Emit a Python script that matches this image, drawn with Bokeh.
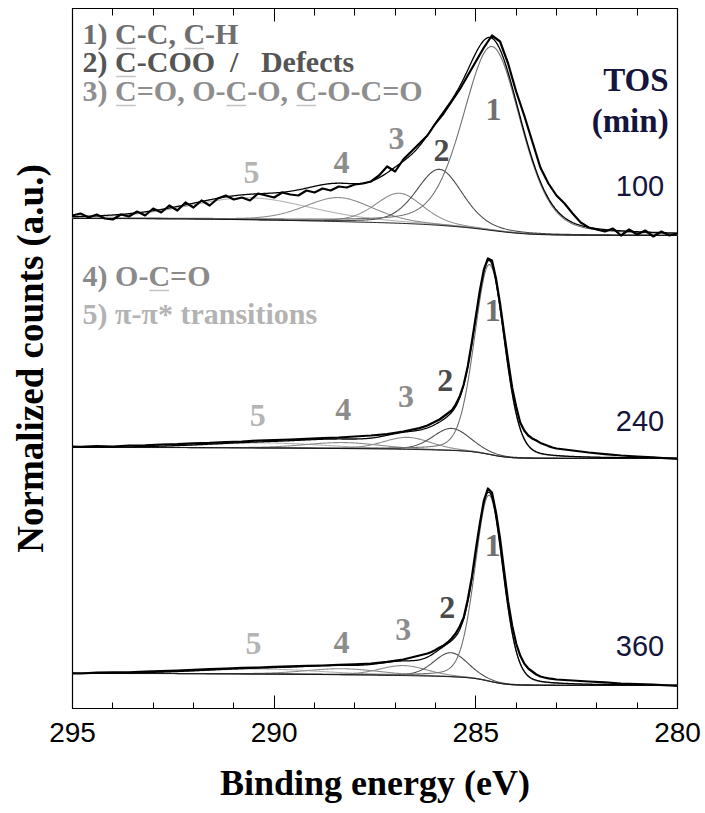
import numpy as np
from bokeh.plotting import figure
from bokeh.models import Range1d, LinearAxis, SingleIntervalTicker, FixedTicker, ColumnDataSource
from bokeh.core.properties import value
from bokeh.embed import file_html
from bokeh.resources import INLINE

# ---------------- data ----------------
TOS = ["100", "240", "360"]
OFFSETS = [2.365, 1.25, 0.115]          # vertical stacking of the spectra (a.u.)
BG_STEP = [0.085, 0.055, 0.060]         # Shirley background: high-BE level minus low-BE level
LORENTZ = [0.30, 0.20, 0.20]            # Lorentzian fraction of the fitted line shapes

PEAK_NAMES = ["1", "2", "3", "4", "5"]
# fitted components per spectrum: centre (eV), height (a.u.), FWHM (eV)
CENTER_100 = [284.60, 285.90, 286.90, 288.40, 290.60]
HEIGHT_100 = [0.92, 0.28, 0.15, 0.12, 0.11]
FWHM_100 = [1.70, 1.35, 1.40, 2.00, 3.60]

CENTER_240 = [284.66, 285.60, 286.70, 288.30, 290.20]
HEIGHT_240 = [0.95, 0.11, 0.06, 0.03, 0.025]
FWHM_240 = [0.88, 1.10, 1.40, 2.20, 3.50]

CENTER_360 = [284.67, 285.62, 286.80, 288.30, 290.30]
HEIGHT_360 = [0.93, 0.12, 0.05, 0.03, 0.025]
FWHM_360 = [0.82, 1.00, 1.40, 2.20, 3.50]

# measured spectra (normalized counts above the low-BE background level)
BE_100 = np.linspace(295.2, 279.8, 78)
EXP_100 = [
    0.115, 0.10, 0.11, 0.09, 0.105, 0.085, 0.08, 0.105, 0.095, 0.12,
    0.10, 0.135, 0.115, 0.15, 0.125, 0.165, 0.14, 0.175, 0.15, 0.185,
    0.20, 0.18, 0.19, 0.175, 0.21, 0.20, 0.19, 0.215, 0.205, 0.20,
    0.225, 0.215, 0.235, 0.225, 0.245, 0.24, 0.255, 0.26, 0.27, 0.30,
    0.345, 0.32, 0.38, 0.42, 0.46, 0.50, 0.56, 0.61, 0.67, 0.73,
    0.80, 0.87, 0.94, 1.00, 0.97, 0.86, 0.72, 0.60, 0.47, 0.34,
    0.26, 0.20, 0.16, 0.11, 0.065, 0.04, 0.03, 0.02, 0.035, 0.0,
    0.03, 0.005, 0.025, -0.005, 0.02, 0.0, 0.01, -0.015,
]

BE_240_360 = np.concatenate([
    np.linspace(295.2, 286.4, 23),
    np.linspace(286.3, 283.0, 34),
    np.linspace(282.6, 279.8, 8),
])
EXP_240 = [
    0.060, 0.058, 0.062, 0.060, 0.065, 0.066, 0.070, 0.072, 0.076, 0.078,
    0.082, 0.085, 0.090, 0.092, 0.095, 0.098, 0.102, 0.105, 0.110, 0.115,
    0.122, 0.135, 0.152,
    0.158, 0.165, 0.175, 0.185, 0.195, 0.21, 0.225, 0.24, 0.27, 0.31,
    0.37, 0.46, 0.58, 0.71, 0.84, 0.945, 1.00, 0.99, 0.90, 0.775,
    0.63, 0.49, 0.355, 0.26, 0.18, 0.14, 0.115, 0.10, 0.09, 0.078,
    0.07, 0.062, 0.055, 0.05,
    0.04, 0.03, 0.022, 0.015, 0.01, 0.006, 0.0, -0.003,
]
EXP_360 = [
    0.062, 0.060, 0.064, 0.066, 0.066, 0.070, 0.072, 0.075, 0.078, 0.082,
    0.085, 0.088, 0.090, 0.093, 0.096, 0.098, 0.100, 0.103, 0.106, 0.110,
    0.118, 0.130, 0.150,
    0.155, 0.16, 0.168, 0.178, 0.19, 0.20, 0.215, 0.235, 0.26, 0.295,
    0.34, 0.43, 0.54, 0.68, 0.81, 0.925, 0.985, 0.965, 0.865, 0.735,
    0.575, 0.42, 0.30, 0.21, 0.15, 0.11, 0.085, 0.07, 0.055, 0.045,
    0.04, 0.036, 0.033, 0.03,
    0.025, 0.02, 0.016, 0.01, 0.007, 0.004, 0.0, -0.003,
]

LEGEND_TEXT = ["1) C-C, C-H", "2) C-COO\u00a0 /\u00a0\u00a0 Defects", "3) C=O, O-C-O, C-O-C=O",
               "4) O-C=O", "5) \u03c0-\u03c0* transitions"]
UNDERLINED = [[3, 8], [3], [3, 10, 15], [5], []]   # index of the underlined carbon in each line

# ---------------- styles / layout ----------------
COMP_COLORS = ["#707070", "#4a4a4a", "#8c8c8c", "#8c8c8c", "#b4b4b4"]
LEGEND_COLORS = ["#6e6e6e", "#555555", "#8e8e8e", "#8a8a8a", "#b3b3b3"]
UNDERLINE_COLOR = "#c4c4c4"
NAVY = "#14143c"
SERIF = "Liberation Serif"
SANS = "Liberation Sans"
LEGEND_SIZE = 30

LEGEND_X = 294.75
LEGEND_Y = [3.375, 3.235, 3.09, 2.165, 1.975]
PEAK_LABEL_X = [[284.56, 285.85, 286.97, 288.33, 290.56],
                [284.58, 285.76, 286.73, 288.29, 290.41],
                [284.58, 285.71, 286.80, 288.33, 290.51]]
PEAK_LABEL_Y = [[2.995, 2.79, 2.85, 2.73, 2.68],
                [1.99, 1.64, 1.56, 1.495, 1.465],
                [0.815, 0.505, 0.395, 0.33, 0.325]]
TOS_LABEL_X = 280.33
TOS_LABEL_Y = [2.615, 1.44, 0.315]

# advance widths (em) of the bold serif face, for placing the underlines
EM = {'1': .5, '2': .5, '3': .5, '4': .5, '5': .5, ')': .333, ' ': .25, '\u00a0': .25,
      'C': .722, '-': .333, ',': .25, 'H': .778, 'O': .778, '=': .570, '/': .278}

FRAME_L, FRAME_R, X_HI, X_LO = 72, 677, 295.0, 280.0
PX_PER_EV = (FRAME_R - FRAME_L) / (X_HI - X_LO)
PX_PER_UNIT = 200.0


def pseudo_voigt(x, c, h, w, m):
    r2 = 4.0 * ((x - c) / w) ** 2
    return h * ((1 - m) * np.exp(-np.log(2) * r2) + m / (1 + r2))


p = figure(width=705, height=813, x_range=Range1d(X_HI, X_LO), y_range=Range1d(0, 3.5),
           output_backend="svg", toolbar_location=None,
           min_border_left=72, min_border_right=28, min_border_top=8, min_border_bottom=105)
p.grid.visible = False
p.outline_line_color = "black"
p.outline_line_width = 1.2
p.background_fill_color = "white"
p.border_fill_color = "white"

xa = p.xaxis[0]
xa.ticker = SingleIntervalTicker(interval=5, num_minor_ticks=5)
xa.major_tick_in = 13
xa.major_tick_out = 0
xa.minor_tick_in = 6
xa.minor_tick_out = 0
xa.axis_line_color = "black"
xa.major_label_text_font = SANS
xa.major_label_text_font_size = "28px"
xa.major_label_text_color = "black"
xa.major_label_standoff = 14
xa.axis_label = "Binding energy (eV)"
xa.axis_label_text_font = SERIF
xa.axis_label_text_font_style = "bold"
xa.axis_label_text_font_size = "36px"
xa.axis_label_text_color = "black"
xa.axis_label_standoff = 18

# top frame ticks (no labels)
top = LinearAxis(ticker=SingleIntervalTicker(interval=5, num_minor_ticks=5),
                 major_tick_in=13, major_tick_out=0, minor_tick_in=7, minor_tick_out=0,
                 major_label_text_font_size="0px", major_label_text_color=None,
                 major_label_standoff=0, axis_line_color="black")
p.add_layout(top, "above")

ya = p.yaxis[0]
ya.ticker = FixedTicker(ticks=[])
ya.major_tick_in = 0
ya.major_tick_out = 0
ya.minor_tick_in = 0
ya.minor_tick_out = 0
ya.major_label_text_font_size = "0px"
ya.major_label_text_color = None
ya.major_label_standoff = 0
ya.axis_line_color = None
ya.axis_label = "Normalized counts (a.u.)"
ya.axis_label_text_font = SERIF
ya.axis_label_text_font_style = "bold"
ya.axis_label_text_font_size = "37px"
ya.axis_label_text_color = "black"
ya.axis_label_standoff = 22


def add_text(xs, ys, texts, colors, font, size, align, bold=True):
    src = ColumnDataSource(dict(x=list(xs), y=list(ys), t=list(texts), c=list(colors)))
    p.text(x="x", y="y", text="t", text_color="c", source=src,
           text_font=value(font), text_font_size=value(size),
           text_font_style="bold" if bold else "normal",
           text_align=align, text_baseline="middle")


xf = np.linspace(295.2, 279.8, 771)
panels = [
    (CENTER_100, HEIGHT_100, FWHM_100, BE_100, EXP_100),
    (CENTER_240, HEIGHT_240, FWHM_240, BE_240_360, EXP_240),
    (CENTER_360, HEIGHT_360, FWHM_360, BE_240_360, EXP_360),
]

for k, (cen, hgt, fw, be, exp) in enumerate(panels):
    off = OFFSETS[k]
    comps = [pseudo_voigt(xf, c, h, w, LORENTZ[k]) for c, h, w in zip(cen, hgt, fw)]
    total = np.sum(comps, axis=0)
    cum = np.cumsum(total[::-1])[::-1]
    bg = BG_STEP[k] * cum / cum[0]
    for i in range(4, -1, -1):
        p.line(xf, off + bg + comps[i], line_color=COMP_COLORS[i], line_width=1.1)
    p.line(xf, off + bg, line_color="black", line_width=1.0)
    p.line(xf, off + bg + total, line_color="black", line_width=1.3)
    p.line(be, off + np.array(exp), line_color="black", line_width=2.2, line_join="round")

    add_text(PEAK_LABEL_X[k], PEAK_LABEL_Y[k], PEAK_NAMES, COMP_COLORS, SERIF, "32px", "center")

add_text([TOS_LABEL_X] * 3, TOS_LABEL_Y, TOS, [NAVY] * 3, SANS, "29px", "right", bold=False)

# underlines below the carbon atoms of the legend
ux0, ux1, uy = [], [], []
legend_px0 = FRAME_L + (X_HI - LEGEND_X) * PX_PER_EV
for line, idxs, ly in zip(LEGEND_TEXT, UNDERLINED, LEGEND_Y):
    for j in idxs:
        a = legend_px0 + sum(EM[ch] for ch in line[:j]) * LEGEND_SIZE
        b = a + EM['C'] * LEGEND_SIZE
        ux0.append(X_HI - (a + 1 - FRAME_L) / PX_PER_EV)
        ux1.append(X_HI - (b - 1 - FRAME_L) / PX_PER_EV)
        uy.append(ly - 15 / PX_PER_UNIT)
p.segment(x0=ux0, y0=uy, x1=ux1, y1=uy, line_color=UNDERLINE_COLOR, line_width=1.6)

add_text([LEGEND_X] * 5, LEGEND_Y, LEGEND_TEXT, LEGEND_COLORS, SERIF, f"{LEGEND_SIZE}px", "left")
add_text([280.22, 280.22], [3.145, 2.94], ["TOS", "(min)"], [NAVY, NAVY], SERIF, "33px", "right")

open("out.html", "w").write(file_html(p, INLINE))
